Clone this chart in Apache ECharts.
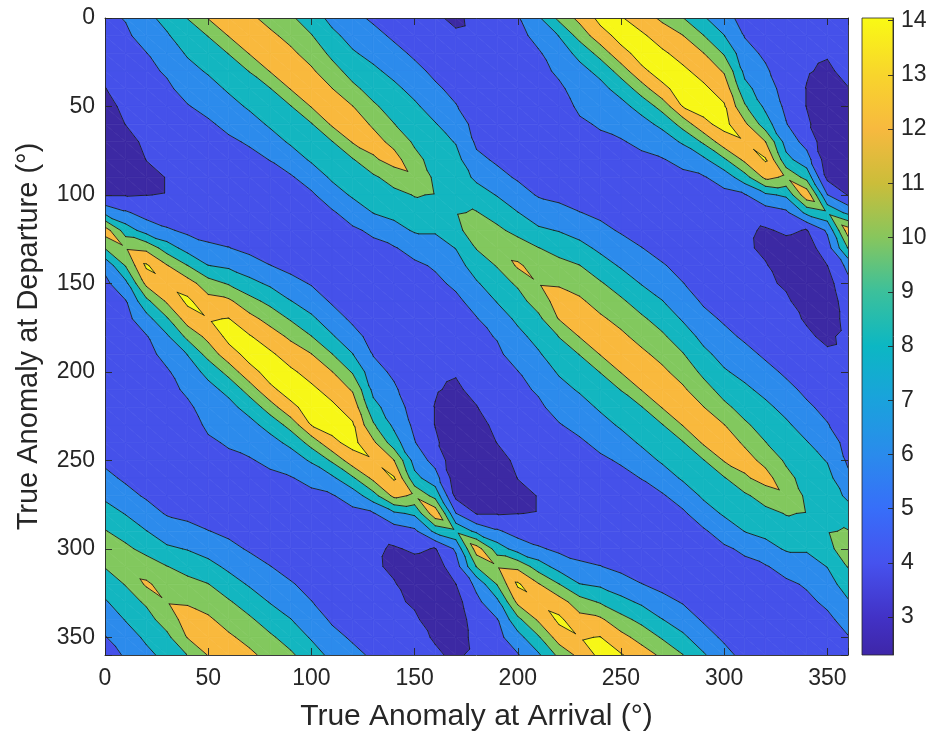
<!DOCTYPE html>
<html>
<head>
<meta charset="utf-8">
<script src="https://cdn.jsdelivr.net/npm/echarts@6/dist/echarts.min.js"></script>
<style>
html,body{margin:0;padding:0;background:#ffffff;}
#chart{width:936px;height:740px;}
</style>
</head>
<body>
<div id="chart"></div>
<script>
// ---------------- data ----------------
// grid nodes (degrees) for both axes
const gridAngles = [0,10,20,30,40,50,60,70,80,90,100,110,120,130,140,150,160,170,180,
                    190,200,210,220,230,240,250,260,270,280,290,300,310,320,330,340,350,360];
// offsets "departure - arrival" (mod 360) used to index each arrival column below
const offsetAngles = [0,10,20,30,40,50,60,70,80,90,100,110,120,130,140,150,160,170,
                      180,190,200,210,220,230,240,250,260,270,280,290,300,310,320,330,340,350];
// value read at (arrival = a, departure = a + offset), one row per arrival angle 0..350
const zByArrival = [
/*  0*/[5.6,5.2,4.8,4.35,3.95,3.5,3.1,2.8,2.9,3.3,3.9,7.5,13.0,10.1,6.5,5.5,5.1,4.8,4.6,4.5,4.45,4.5,4.7,5.0,5.35,5.7,6.4,7.6,8.9,10.1,11.0,10.1,8.9,7.8,6.7,5.9],
/* 10*/[5.7,5.35,5.0,4.7,4.35,4.03,3.4,3.0,3.3,3.9,6.25,9.0,11.8,10.1,7.5,5.9,5.4,5.0,4.75,4.6,4.5,4.55,4.7,5.0,5.35,5.75,6.5,7.9,9.2,10.4,11.3,10.1,9.1,8.1,7.1,6.1],
/* 20*/[5.95,5.6,5.3,5.0,4.7,4.35,4.03,3.6,3.98,5.25,7.15,11.5,14.3,12.5,9.45,7.25,5.85,5.3,4.95,4.7,4.55,4.55,4.7,5.0,5.4,5.8,6.7,8.05,9.4,11.0,12.3,10.3,9.2,8.35,7.5,6.7],
/* 30*/[6.2,5.7,5.3,4.9,4.55,4.25,4.05,4.05,4.8,6.25,9.0,12.15,13.6,12.3,9.75,7.7,6.7,5.75,5.3,4.95,4.7,4.6,4.7,5.0,5.35,5.85,7.0,8.3,10.05,11.2,11.9,11.0,9.5,8.6,7.8,7.0],
/* 40*/[6.6,5.9,5.3,4.85,4.55,4.45,4.6,5.0,5.6,7.2,10.05,12.9,14.4,13.0,10.5,8.05,7.2,6.4,5.6,5.1,4.8,4.65,4.75,5.1,5.6,6.5,7.9,9.3,10.6,11.8,12.8,12.1,10.05,9.1,8.2,7.4],
/* 50*/[6.5,5.75,5.2,4.8,4.55,4.55,4.8,5.3,6.35,8.05,10.85,12.7,13.9,12.6,10.75,8.45,7.5,6.95,6.35,5.7,5.2,4.9,4.8,5.0,6.05,7.25,8.6,10.05,11.2,12.3,12.9,12.1,10.05,9.1,8.2,7.3],
/* 60*/[6.45,5.7,5.15,4.8,4.6,4.75,5.2,6.05,7.65,9.8,12.35,14.05,14.55,13.25,10.75,8.45,7.5,6.85,6.2,5.6,5.15,4.85,4.8,5.6,6.5,7.6,8.85,10.2,11.25,12.3,13.0,12.1,10.05,9.1,8.25,7.35],
/* 70*/[6.2,5.5,4.95,4.6,4.55,4.85,5.5,6.85,8.6,10.65,12.65,14.15,14.6,13.45,10.9,8.65,7.45,6.65,5.85,5.3,4.95,4.8,4.85,5.8,6.8,7.8,9.05,10.3,11.4,12.4,13.1,12.1,10.05,9.1,8.25,7.25],
/* 80*/[6.05,5.35,4.85,4.55,4.6,5.0,6.05,7.65,9.45,11.25,13.0,14.3,14.6,13.7,11.0,8.65,7.35,6.4,5.6,5.15,4.9,4.8,5.0,6.05,6.95,7.9,9.1,10.3,11.35,12.4,13.1,12.1,9.9,9.1,8.25,7.2],
/* 90*/[5.8,5.2,4.7,4.5,4.7,5.4,6.65,8.05,9.8,11.6,13.15,14.3,14.6,13.65,10.75,8.45,7.0,5.9,5.3,5.0,4.85,4.8,5.2,6.2,7.1,8.05,9.2,10.3,11.4,12.4,13.2,12.1,9.9,9.1,8.25,7.05],
/*100*/[5.7,5.05,4.55,4.45,4.8,5.85,7.05,8.35,10.05,12.05,13.35,14.35,14.6,14.05,10.75,8.25,6.5,5.6,5.15,4.9,4.8,4.85,5.3,6.05,6.9,7.8,8.95,10.1,11.2,12.3,13.1,12.1,9.85,9.05,8.25,6.9],
/*110*/[5.75,5.1,4.6,4.45,4.75,5.75,6.95,8.2,10.05,12.05,13.35,14.35,14.6,13.6,10.3,7.6,5.85,5.3,5.0,4.85,4.8,4.9,5.25,5.75,6.55,7.45,8.45,9.55,10.75,12.05,13.2,12.3,9.9,9.1,8.3,7.1],
/*120*/[5.7,5.05,4.55,4.45,4.75,5.6,6.75,8.05,9.8,11.8,13.2,14.2,14.55,13.2,9.7,6.85,5.5,5.1,4.9,4.8,4.8,4.9,5.2,5.75,6.5,7.35,8.2,9.25,10.45,12.05,13.1,12.15,9.85,9.05,8.25,6.9],
/*130*/[5.5,4.95,4.5,4.45,4.7,5.25,5.9,6.7,7.5,8.6,10.25,12.4,13.85,12.5,9.2,5.85,4.6,4.3,4.35,4.5,4.65,4.8,5.1,5.7,6.55,7.45,8.35,9.25,10.3,11.7,12.8,11.7,9.65,8.85,8.05,6.35],
/*140*/[5.45,4.95,4.55,4.4,4.55,5.0,5.65,6.3,6.95,7.6,8.9,12.05,14.2,12.5,7.6,5.0,3.8,3.6,4.15,4.4,4.6,4.8,5.1,5.7,6.55,7.5,8.4,9.2,10.05,11.4,12.8,10.9,9.4,8.5,7.35,5.85],
/*150*/[5.3,4.9,4.55,4.35,4.35,4.5,4.8,5.2,5.6,6.1,7.2,8.6,11.7,8.35,5.6,4.3,3.3,3.0,3.7,4.35,4.6,4.8,5.1,5.7,6.5,7.45,8.3,9.0,9.7,10.6,11.6,10.1,9.15,8.2,6.7,5.65],
/*160*/[5.2,4.9,4.6,4.4,4.25,4.1,3.95,3.95,4.3,5.3,6.8,9.3,13.4,8.5,3.9,3.1,2.7,2.6,2.9,3.8,4.3,4.6,5.0,5.6,6.3,7.2,8.1,8.7,9.2,9.6,9.9,9.4,8.2,7.2,6.2,5.6],
/*170*/[5.1,4.7,4.4,4.1,3.8,3.4,3.0,2.8,2.7,2.9,3.5,6.05,9.6,6.3,5.1,3.98,3.3,2.8,2.8,3.6,4.3,4.6,5.0,5.5,6.1,7.0,7.9,8.6,9.1,9.6,9.9,9.5,8.05,7.2,6.35,5.6],
/*180*/[5.6,5.2,4.8,4.35,3.95,3.5,3.1,2.8,2.9,3.3,3.9,7.5,13.0,10.1,6.5,5.5,5.1,4.8,4.6,4.5,4.45,4.5,4.7,5.0,5.35,5.7,6.4,7.6,8.9,10.1,11.0,10.1,8.9,7.8,6.7,5.9],
/*190*/[5.7,5.35,5.0,4.7,4.35,4.03,3.4,3.0,3.3,3.9,6.25,9.0,11.8,10.1,7.5,5.9,5.4,5.0,4.75,4.6,4.5,4.55,4.7,5.0,5.35,5.75,6.5,7.9,9.2,10.4,11.3,10.1,9.1,8.1,7.1,6.1],
/*200*/[5.95,5.6,5.3,5.0,4.7,4.35,4.03,3.6,3.98,5.25,7.15,11.5,14.3,12.5,9.45,7.25,5.85,5.3,4.95,4.7,4.55,4.55,4.7,5.0,5.4,5.8,6.7,8.05,9.4,11.0,12.3,10.3,9.2,8.35,7.5,6.7],
/*210*/[6.2,5.7,5.3,4.9,4.55,4.25,4.05,4.05,4.8,6.25,9.0,12.15,13.6,12.3,9.75,7.7,6.7,5.75,5.3,4.95,4.7,4.6,4.7,5.0,5.35,5.85,7.0,8.3,10.05,11.2,11.9,11.0,9.5,8.6,7.8,7.0],
/*220*/[6.6,5.9,5.3,4.85,4.55,4.45,4.6,5.0,5.6,7.2,10.05,12.9,14.4,13.0,10.5,8.05,7.2,6.4,5.6,5.1,4.8,4.65,4.75,5.1,5.6,6.5,7.9,9.3,10.6,11.8,12.8,12.1,10.05,9.1,8.2,7.4],
/*230*/[6.5,5.75,5.2,4.8,4.55,4.55,4.8,5.3,6.35,8.05,10.85,12.7,13.9,12.6,10.75,8.45,7.5,6.95,6.35,5.7,5.2,4.9,4.8,5.0,6.05,7.25,8.6,10.05,11.2,12.3,12.9,12.1,10.05,9.1,8.2,7.3],
/*240*/[6.45,5.7,5.15,4.8,4.6,4.75,5.2,6.05,7.65,9.8,12.35,14.05,14.55,13.25,10.75,8.45,7.5,6.85,6.2,5.6,5.15,4.85,4.8,5.6,6.5,7.6,8.85,10.2,11.25,12.3,13.0,12.1,10.05,9.1,8.25,7.35],
/*250*/[6.2,5.5,4.95,4.6,4.55,4.85,5.5,6.85,8.6,10.65,12.65,14.15,14.6,13.45,10.9,8.65,7.45,6.65,5.85,5.3,4.95,4.8,4.85,5.8,6.8,7.8,9.05,10.3,11.4,12.4,13.1,12.1,10.05,9.1,8.25,7.25],
/*260*/[6.05,5.35,4.85,4.55,4.6,5.0,6.05,7.65,9.45,11.25,13.0,14.3,14.6,13.7,11.0,8.65,7.35,6.4,5.6,5.15,4.9,4.8,5.0,6.05,6.95,7.9,9.1,10.3,11.35,12.4,13.1,12.1,9.9,9.1,8.25,7.2],
/*270*/[5.8,5.2,4.7,4.5,4.7,5.4,6.65,8.05,9.8,11.6,13.15,14.3,14.6,13.65,10.75,8.45,7.0,5.9,5.3,5.0,4.85,4.8,5.2,6.2,7.1,8.05,9.2,10.3,11.4,12.4,13.2,12.1,9.9,9.1,8.25,7.05],
/*280*/[5.7,5.05,4.55,4.45,4.8,5.85,7.05,8.35,10.05,12.05,13.35,14.35,14.6,14.05,10.75,8.25,6.5,5.6,5.15,4.9,4.8,4.85,5.3,6.05,6.9,7.8,8.95,10.1,11.2,12.3,13.1,12.1,9.85,9.05,8.25,6.9],
/*290*/[5.75,5.1,4.6,4.45,4.75,5.75,6.95,8.2,10.05,12.05,13.35,14.35,14.6,13.6,10.3,7.6,5.85,5.3,5.0,4.85,4.8,4.9,5.25,5.75,6.55,7.45,8.45,9.55,10.75,12.05,13.2,12.3,9.9,9.1,8.3,7.1],
/*300*/[5.7,5.05,4.55,4.45,4.75,5.6,6.75,8.05,9.8,11.8,13.2,14.2,14.55,13.2,9.7,6.85,5.5,5.1,4.9,4.8,4.8,4.9,5.2,5.75,6.5,7.35,8.2,9.25,10.45,12.05,13.1,12.15,9.85,9.05,8.25,6.9],
/*310*/[5.5,4.95,4.5,4.45,4.7,5.25,5.9,6.7,7.5,8.6,10.25,12.4,13.85,12.5,9.2,5.85,4.6,4.3,4.35,4.5,4.65,4.8,5.1,5.7,6.55,7.45,8.35,9.25,10.3,11.7,12.8,11.7,9.65,8.85,8.05,6.35],
/*320*/[5.45,4.95,4.55,4.4,4.55,5.0,5.65,6.3,6.95,7.6,8.9,12.05,14.2,12.5,7.6,5.0,3.8,3.6,4.15,4.4,4.6,4.8,5.1,5.7,6.55,7.5,8.4,9.2,10.05,11.4,12.8,10.9,9.4,8.5,7.35,5.85],
/*330*/[5.3,4.9,4.55,4.35,4.35,4.5,4.8,5.2,5.6,6.1,7.2,8.6,11.7,8.35,5.6,4.3,3.3,3.0,3.7,4.35,4.6,4.8,5.1,5.7,6.5,7.45,8.3,9.0,9.7,10.6,11.6,10.1,9.15,8.2,6.7,5.65],
/*340*/[5.2,4.9,4.6,4.4,4.25,4.1,3.95,3.95,4.3,5.3,6.8,9.3,13.4,8.5,3.9,3.1,2.7,2.6,2.9,3.8,4.3,4.6,5.0,5.6,6.3,7.2,8.1,8.7,9.2,9.6,9.9,9.4,8.2,7.2,6.2,5.6],
/*350*/[5.1,4.7,4.4,4.1,3.8,3.4,3.0,2.8,2.7,2.9,3.5,6.05,9.6,6.3,5.1,3.98,3.3,2.8,2.8,3.6,4.3,4.6,5.0,5.5,6.1,7.0,7.9,8.6,9.1,9.6,9.9,9.5,8.05,7.2,6.35,5.6]
];
const arrivalTicks = [0,50,100,150,200,250,300,350];
const departureTicks = [0,50,100,150,200,250,300,350];
const contourLevels = [4,6,8,10,12,14];
const colorbarTicks = [3,4,5,6,7,8,9,10,11,12,13,14];
const colorRange = [2.3,14.05];

// ---------------- styling ----------------
const bandColors = ['#3c29a3','#4551ea','#2c8bec','#13b6c0','#82c85e','#f9b93d','#f7f717'];
const parulaStops = [
  [2.3,'#3e26a8'],[3,'#4232c6'],[4,'#4652ee'],[5,'#376ef9'],[6,'#2a8bec'],[7,'#1aa2dc'],
  [8,'#0cb7c3'],[9,'#3cc09b'],[10,'#87c65d'],[11,'#cbbd3a'],[12,'#f7b93f'],[13,'#f8d52c'],[14.05,'#f9fa14']
];
const ink = '#262626';
const font = "'Liberation Sans', Arial, Helvetica, sans-serif";

// ---------------- helpers ----------------
const nCells = gridAngles.length - 1;
function nodeValue(i, j) {
  const col = zByArrival[i % nCells];
  const k = (((j - i) % nCells) + nCells) % nCells;
  return col[k];
}
const cells = [];
for (let i = 0; i < nCells; i++) for (let j = 0; j < nCells; j++) cells.push([i, j]);

function clipPoly(poly, level, keepAbove) {
  const out = [];
  const n = poly.length;
  for (let k = 0; k < n; k++) {
    const A = poly[k], B = poly[(k + 1) % n];
    const ai = keepAbove ? A[2] >= level : A[2] < level;
    const bi = keepAbove ? B[2] >= level : B[2] < level;
    if (ai) out.push(A);
    if (ai !== bi) {
      const t = (level - A[2]) / (B[2] - A[2]);
      out.push([A[0] + t * (B[0] - A[0]), A[1] + t * (B[1] - A[1]), level]);
    }
  }
  return out;
}
function cellTriangles(i, j) {
  const a0 = gridAngles[i], a1 = gridAngles[i + 1], d0 = gridAngles[j], d1 = gridAngles[j + 1];
  const P00 = [a0, d0, nodeValue(i, j)], P10 = [a1, d0, nodeValue(i + 1, j)];
  const P11 = [a1, d1, nodeValue(i + 1, j + 1)], P01 = [a0, d1, nodeValue(i, j + 1)];
  return [[P00, P10, P11], [P00, P11, P01]];
}
function renderFill(params, api) {
  const tris = cellTriangles(api.value(0), api.value(1));
  const children = [];
  for (const tri of tris) {
    for (let b = 0; b < bandColors.length; b++) {
      let poly = tri;
      if (b > 0) poly = clipPoly(poly, contourLevels[b - 1], true);
      if (poly.length >= 3 && b < contourLevels.length) poly = clipPoly(poly, contourLevels[b], false);
      if (poly.length >= 3) {
        children.push({
          type: 'polygon', silent: true,
          shape: { points: poly.map(p => api.coord([p[0], p[1]])) },
          style: { fill: bandColors[b], stroke: bandColors[b], lineWidth: 0.7 }
        });
      }
    }
  }
  return { type: 'group', children };
}
function renderLines(params, api) {
  const tris = cellTriangles(api.value(0), api.value(1));
  const children = [];
  for (const tri of tris) {
    for (const L of contourLevels) {
      const pts = [];
      for (let e = 0; e < 3; e++) {
        const A = tri[e], B = tri[(e + 1) % 3];
        if ((A[2] < L) !== (B[2] < L)) {
          const t = (L - A[2]) / (B[2] - A[2]);
          pts.push(api.coord([A[0] + t * (B[0] - A[0]), A[1] + t * (B[1] - A[1])]));
        }
      }
      if (pts.length === 2) {
        children.push({
          type: 'line', silent: true,
          shape: { x1: pts[0][0], y1: pts[0][1], x2: pts[1][0], y2: pts[1][1] },
          style: { stroke: '#1c1c1c', lineWidth: 0.9, lineCap: 'round' }
        });
      }
    }
  }
  return { type: 'group', children };
}
function renderColorbar(params, api) {
  const p0 = api.coord([0, colorRange[0]]);
  const p1 = api.coord([1, colorRange[1]]);
  const span = colorRange[1] - colorRange[0];
  const stops = parulaStops.map(s => ({ offset: (s[0] - colorRange[0]) / span, color: s[1] }));
  return {
    type: 'rect',
    shape: { x: p0[0], y: p1[1], width: p1[0] - p0[0], height: p0[1] - p1[1] },
    style: { fill: new echarts.graphic.LinearGradient(0, 1, 0, 0, stops), stroke: ink, lineWidth: 0.8 }
  };
}

const tickLabel = { color: ink, fontSize: 23, fontFamily: font };
const frameLine = { show: true, onZero: false, lineStyle: { color: ink, width: 0.9 } };
const innerTick = { show: true, inside: true, length: 7, lineStyle: { color: ink, width: 0.9 } };

const chart = echarts.init(document.getElementById('chart'), null, { renderer: 'canvas' });
chart.setOption({
  animation: false,
  backgroundColor: '#ffffff',
  grid: [
    { left: 105, top: 18, width: 743, height: 637 },
    { left: 862, top: 18, width: 31, height: 637 }
  ],
  xAxis: [
    { gridIndex: 0, type: 'value', min: 0, max: 360, interval: 50, position: 'bottom', z: 10,
      axisLine: frameLine, axisTick: innerTick, splitLine: { show: false },
      axisLabel: Object.assign({ margin: 12, customValues: arrivalTicks }, tickLabel),
      name: 'True Anomaly at Arrival (°)', nameLocation: 'middle', nameGap: 47,
      nameTextStyle: { color: ink, fontSize: 30, fontFamily: font } },
    { gridIndex: 0, type: 'value', min: 0, max: 360, interval: 50, position: 'top', z: 10,
      axisLine: frameLine, axisTick: innerTick, splitLine: { show: false }, axisLabel: { show: false } },
    { gridIndex: 1, type: 'value', min: 0, max: 1, show: false }
  ],
  yAxis: [
    { gridIndex: 0, type: 'value', min: 0, max: 360, interval: 50, inverse: true, position: 'left', z: 10,
      axisLine: frameLine, axisTick: innerTick, splitLine: { show: false },
      axisLabel: Object.assign({ margin: 10, customValues: departureTicks }, tickLabel),
      name: 'True Anomaly at Departure (°)', nameLocation: 'middle', nameGap: 62,
      nameTextStyle: { color: ink, fontSize: 29, fontFamily: font } },
    { gridIndex: 0, type: 'value', min: 0, max: 360, interval: 50, inverse: true, position: 'right', z: 10,
      axisLine: frameLine, axisTick: innerTick, splitLine: { show: false }, axisLabel: { show: false } },
    { gridIndex: 1, type: 'value', min: colorRange[0], max: colorRange[1], position: 'right', z: 10,
      axisLine: frameLine, splitLine: { show: false },
      axisTick: { show: true, inside: true, length: 5, customValues: colorbarTicks, lineStyle: { color: ink, width: 0.9 } },
      axisLabel: Object.assign({ margin: 8, customValues: colorbarTicks }, tickLabel) }
  ],
  series: [
    { type: 'custom', name: 'bands', xAxisIndex: 0, yAxisIndex: 0, data: cells, renderItem: renderFill,
      progressive: 0, z: 2, silent: true, clip: true },
    { type: 'custom', name: 'contours', xAxisIndex: 0, yAxisIndex: 0, data: cells, renderItem: renderLines,
      progressive: 0, z: 3, silent: true, clip: true },
    { type: 'custom', name: 'colorbar', xAxisIndex: 2, yAxisIndex: 2, data: [[0, colorRange[0], 1, colorRange[1]]],
      renderItem: renderColorbar, z: 2, silent: true }
  ]
});
</script>
</body>
</html>
